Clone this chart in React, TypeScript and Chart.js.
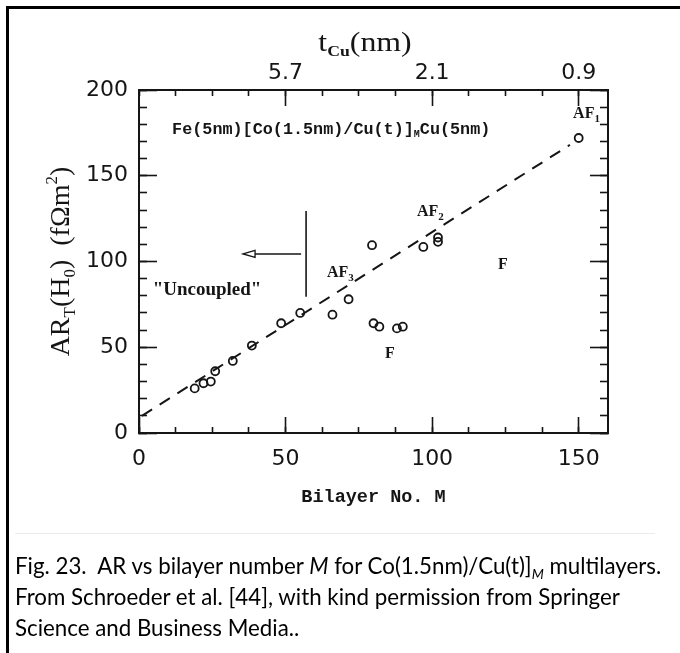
import React, { useEffect, useRef } from "react";
import { Chart, registerables } from "chart.js";

Chart.register(...registerables);

// Bilayer number M and measured AR_T(H0) in fΩm²
const bilayerM = [19, 22, 24.5, 26, 32, 38.5, 48.5, 55, 66, 71.5, 79.5, 80, 82, 88, 90, 97, 102, 102, 150];
const arTotal = [26, 29, 30, 36, 42, 51, 64, 70, 69, 78, 109.5, 64, 62, 61, 62, 108.5, 111.5, 114, 172];

// dashed guide through the coupled samples
const guideM = [1, 147];
const guideAR = [10, 168];

// axis ticks
const bilayerTicks = [0, 50, 100, 150];
const bilayerMinorTicks = [0, 12.5, 25, 37.5, 50, 62.5, 75, 87.5, 100, 112.5, 125, 137.5, 150];
const arTicks = [0, 50, 100, 150, 200];
const arMinorTicks = [0, 10, 20, 30, 40, 50, 60, 70, 80, 90, 100, 110, 120, 130, 140, 150, 160, 170, 180, 190, 200];
const cuThicknessM = [50, 100, 150];
const cuThicknessLabels = ["5.7", "2.1", "0.9"];

// coupling labels placed in data coordinates (left edge, vertical centre)
const phaseNames = ["AF", "AF", "AF", "F", "F"];
const phaseIndex = ["1", "2", "3", "", ""];
const phaseM = [148.1, 94.8, 64.1, 83.9, 122.5];
const phaseAR = [187, 130, 94, 47, 99];

// "uncoupled" marker: vertical bar and arrow
const barM = [57, 57];
const barAR = [79.5, 129.5];
const arrowM = [55.3, 35.5];
const arrowAR = [104.4, 104.4];

const ink = "#151515";
const serif = "'Liberation Serif', 'Times New Roman', serif";
const mono = "'Liberation Mono', 'Courier New', monospace";
const sans = "'DejaVu Sans', sans-serif";

type Run = { text: string; font: string; dy?: number };

function runsWidth(ctx: CanvasRenderingContext2D, runs: Run[]) {
  let w = 0;
  for (const r of runs) {
    ctx.font = r.font;
    w += ctx.measureText(r.text).width;
  }
  return w;
}

function drawRuns(ctx: CanvasRenderingContext2D, runs: Run[], x: number, y: number) {
  let cx = x;
  for (const r of runs) {
    ctx.font = r.font;
    ctx.fillText(r.text, cx, y + (r.dy || 0));
    cx += ctx.measureText(r.text).width;
  }
}

const figureText = {
  id: "figureText",
  afterDraw(chart: any) {
    const { ctx, scales } = chart;
    const xs = scales.x;
    const ys = scales.y;
    const px = (m: number) => xs.getPixelForValue(m);
    const py = (v: number) => ys.getPixelForValue(v);
    ctx.save();
    ctx.fillStyle = ink;
    ctx.strokeStyle = ink;
    ctx.textAlign = "left";
    ctx.textBaseline = "alphabetic";

    // top axis title (slightly widened lettering)
    const topTitle: Run[] = [
      { text: "t", font: `27px ${serif}` },
      { text: "Cu", font: `bold 15px ${serif}`, dy: 5 },
      { text: "(nm)", font: `27px ${serif}` },
    ];
    const stretch = 1.18;
    ctx.save();
    ctx.translate(365, 51);
    ctx.scale(stretch, 1);
    drawRuns(ctx, topTitle, -runsWidth(ctx, topTitle) / 2, 0);
    ctx.restore();

    // bottom axis title
    const bottomTitle: Run[] = [{ text: "Bilayer No. M", font: `bold 18.5px ${mono}` }];
    drawRuns(ctx, bottomTitle, (xs.left + xs.right) / 2 - runsWidth(ctx, bottomTitle) / 2, 502);

    // left axis title, rotated
    const yTitle: Run[] = [
      { text: "AR", font: `28px ${serif}` },
      { text: "T", font: `17px ${serif}`, dy: 6 },
      { text: "(H", font: `28px ${serif}` },
      { text: "0", font: `17px ${serif}`, dy: 6 },
      { text: ")  (fΩm", font: `28px ${serif}` },
      { text: "2", font: `17px ${serif}`, dy: -12 },
      { text: ")", font: `28px ${serif}` },
    ];
    ctx.save();
    ctx.translate(69, (ys.top + ys.bottom) / 2);
    ctx.rotate(-Math.PI / 2);
    drawRuns(ctx, yTitle, -runsWidth(ctx, yTitle) / 2, 0);
    ctx.restore();

    // sample stack
    drawRuns(
      ctx,
      [
        { text: "Fe(5nm)[Co(1.5nm)/Cu(t)]", font: `bold 16.8px ${mono}` },
        { text: "M", font: `bold 10px ${mono}`, dy: 3 },
        { text: "Cu(5nm)", font: `bold 16.8px ${mono}` },
      ],
      px(11.3),
      py(177.8) + 5.5
    );

    // "Uncoupled"
    const unc: Run[] = [{ text: "\"Uncoupled\"", font: `bold 19px ${serif}` }];
    drawRuns(ctx, unc, px(23.2) - runsWidth(ctx, unc) / 2, py(84) + 6);

    // coupling labels
    phaseNames.forEach((name, i) => {
      drawRuns(
        ctx,
        [
          { text: name, font: `bold 16px ${serif}` },
          { text: phaseIndex[i], font: `bold 11px ${serif}`, dy: 4 },
        ],
        px(phaseM[i]),
        py(phaseAR[i]) + 5.5
      );
    });

    // vertical bar
    ctx.lineWidth = 1.6;
    ctx.beginPath();
    ctx.moveTo(px(barM[0]), py(barAR[0]));
    ctx.lineTo(px(barM[1]), py(barAR[1]));
    ctx.stroke();

    // arrow with open head
    const ax0 = px(arrowM[0]);
    const ax1 = px(arrowM[1]);
    const ay = py(arrowAR[0]);
    ctx.beginPath();
    ctx.moveTo(ax0, ay);
    ctx.lineTo(ax1 + 12, ay);
    ctx.stroke();
    ctx.lineWidth = 1.3;
    ctx.beginPath();
    ctx.moveTo(ax1, ay);
    ctx.lineTo(ax1 + 12, ay - 3.5);
    ctx.lineTo(ax1 + 12, ay + 3.5);
    ctx.closePath();
    ctx.stroke();

    ctx.restore();
  },
};

const setTicks = (values: number[]) => (scale: any) => {
  scale.ticks = values.map((v) => ({ value: v }));
};
const fixedHeight = (h: number) => (scale: any) => {
  scale.height = h;
};
const fixedWidth = (w: number) => (scale: any) => {
  scale.width = w;
};
const tickGrid = (len: number) => ({
  display: true,
  drawOnChartArea: false,
  drawTicks: true,
  tickLength: -len,
  tickWidth: 1.6,
  tickColor: ink,
  color: ink,
});
const frameBorder = { display: true, color: ink, width: 2 };
const noBorder = { display: false };
const tickFont = { family: sans, size: 22 };

export default function App() {
  const canvasRef = useRef<HTMLCanvasElement | null>(null);

  useEffect(() => {
    const canvas = canvasRef.current;
    if (!canvas) return;
    const points = bilayerM.map((m, i) => ({ x: m, y: arTotal[i] }));
    const guide = guideM.map((m, i) => ({ x: m, y: guideAR[i] }));

    const chart = new Chart(canvas, {
      type: "scatter",
      data: {
        datasets: [
          {
            type: "scatter",
            data: points,
            xAxisID: "x",
            yAxisID: "y",
            pointStyle: "circle",
            pointRadius: 4,
            pointBorderWidth: 1.8,
            borderColor: ink,
            backgroundColor: "rgba(0,0,0,0)",
          },
          {
            type: "line",
            data: guide,
            xAxisID: "x",
            yAxisID: "y",
            borderColor: ink,
            borderWidth: 2,
            borderDash: [12, 9],
            pointRadius: 0,
            fill: false,
          },
        ],
      } as any,
      options: {
        responsive: false,
        animation: false,
        devicePixelRatio: 1,
        layout: { padding: 0 },
        plugins: { legend: { display: false }, tooltip: { enabled: false } },
        scales: {
          x: {
            type: "linear",
            axis: "x",
            position: "bottom",
            weight: 1,
            min: 0,
            max: 160,
            afterBuildTicks: setTicks(bilayerTicks),
            afterFit: fixedHeight(87),
            grid: tickGrid(16),
            border: frameBorder,
            ticks: {
              font: tickFont,
              color: ink,
              padding: 28.8,
              maxRotation: 0,
              autoSkip: false,
              callback: (v: any) => String(v),
            },
          },
          xMinor: {
            type: "linear",
            axis: "x",
            position: "bottom",
            weight: 0,
            min: 0,
            max: 160,
            afterBuildTicks: setTicks(bilayerMinorTicks),
            afterFit: fixedHeight(0),
            grid: tickGrid(6),
            border: noBorder,
            ticks: { display: false },
          },
          xTop: {
            type: "linear",
            axis: "x",
            position: "top",
            weight: 1,
            min: 0,
            max: 160,
            afterBuildTicks: setTicks(cuThicknessM),
            afterFit: fixedHeight(90),
            grid: tickGrid(16),
            border: frameBorder,
            ticks: {
              font: tickFont,
              color: ink,
              padding: 19.8,
              maxRotation: 0,
              autoSkip: false,
              callback: (_v: any, i: number) => cuThicknessLabels[i],
            },
          },
          xTopMinor: {
            type: "linear",
            axis: "x",
            position: "top",
            weight: 0,
            min: 0,
            max: 160,
            afterBuildTicks: setTicks(bilayerMinorTicks),
            afterFit: fixedHeight(0),
            grid: tickGrid(6),
            border: noBorder,
            ticks: { display: false },
          },
          y: {
            type: "linear",
            axis: "y",
            position: "left",
            weight: 1,
            min: 0,
            max: 200,
            afterBuildTicks: setTicks(arTicks),
            afterFit: fixedWidth(139),
            grid: tickGrid(18),
            border: frameBorder,
            ticks: {
              font: tickFont,
              color: ink,
              padding: 29,
              autoSkip: false,
              callback: (v: any) => String(v),
            },
          },
          yMinor: {
            type: "linear",
            axis: "y",
            position: "left",
            weight: 0,
            min: 0,
            max: 200,
            afterBuildTicks: setTicks(arMinorTicks),
            afterFit: fixedWidth(0),
            grid: tickGrid(8),
            border: noBorder,
            ticks: { display: false },
          },
          yRight: {
            type: "linear",
            axis: "y",
            position: "right",
            weight: 1,
            min: 0,
            max: 200,
            afterBuildTicks: setTicks(arTicks),
            afterFit: fixedWidth(72),
            grid: tickGrid(18),
            border: frameBorder,
            ticks: { display: false },
          },
          yRightMinor: {
            type: "linear",
            axis: "y",
            position: "right",
            weight: 0,
            min: 0,
            max: 200,
            afterBuildTicks: setTicks(arMinorTicks),
            afterFit: fixedWidth(0),
            grid: tickGrid(8),
            border: noBorder,
            ticks: { display: false },
          },
        },
      } as any,
      plugins: [figureText],
    });
    return () => chart.destroy();
  }, []);

  return (
    <div
      style={{
        position: "absolute",
        left: 0,
        top: 0,
        width: 680,
        height: 653,
        overflow: "hidden",
        background: "#fff",
      }}
    >
      <canvas
        ref={canvasRef}
        width={680}
        height={520}
        style={{ position: "absolute", left: 0, top: 0, width: 680, height: 520 }}
      />
      <div
        style={{
          position: "absolute",
          left: 6,
          top: 6,
          width: 720,
          height: 720,
          borderLeft: "3px solid #000",
          borderTop: "3px solid #000",
          pointerEvents: "none",
        }}
      />
      <div
        style={{
          position: "absolute",
          left: 15,
          top: 533,
          width: 640,
          height: 1,
          background: "#ececec",
        }}
      />
      <div
        style={{
          position: "absolute",
          left: 15,
          top: 550,
          fontFamily: "Lato, 'Noto Sans', sans-serif",
          fontSize: 22.3,
          lineHeight: "31px",
          color: "#000",
          whiteSpace: "nowrap",
        }}
      >
        Fig. 23.&nbsp; AR vs bilayer number <i>M</i> for Co(1.5nm)/Cu(t)]
        <span style={{ fontSize: 14, verticalAlign: "-5px", lineHeight: 0 }}>
          <i>M</i>
        </span>{" "}
        multilayers.
        <br />
        From Schroeder et al. [44], with kind permission from Springer
        <br />
        Science and Business Media..
      </div>
    </div>
  );
}
